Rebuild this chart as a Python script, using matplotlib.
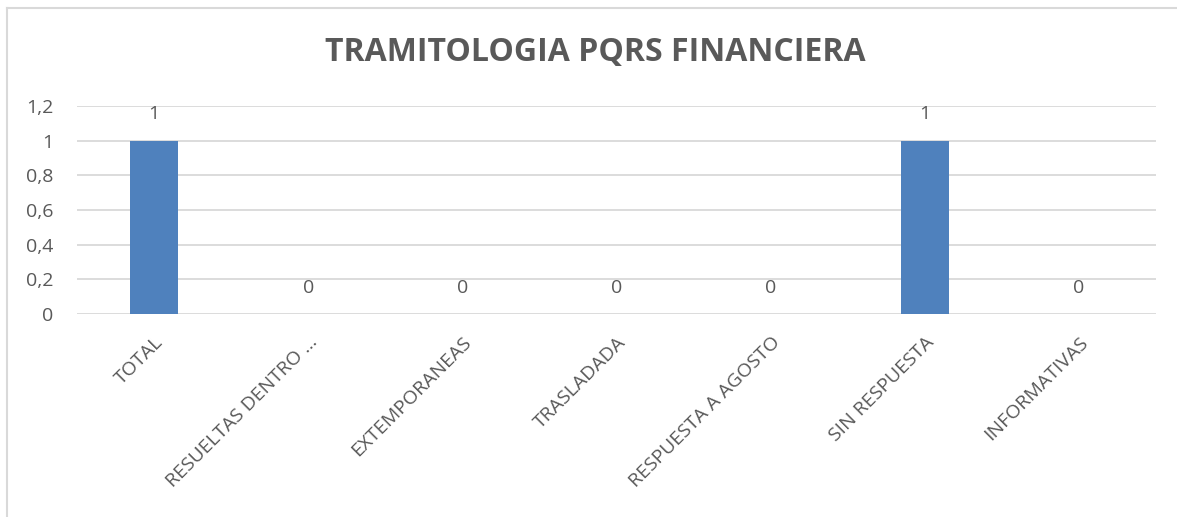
import matplotlib.pyplot as plt
from matplotlib.lines import Line2D
from matplotlib.ticker import FuncFormatter

# Data
categories = ['TOTAL', 'RESUELTAS DENTRO …', 'EXTEMPORANEAS', 'TRASLADADA',
              'RESPUESTA A AGOSTO', 'SIN RESPUESTA', 'INFORMATIVAS']
values = [1, 0, 0, 0, 0, 1, 0]
yticks = [0, 0.2, 0.4, 0.6, 0.8, 1.0, 1.2]

TEXT = '#595959'
BAR = '#4f81bd'
GRID = '#d9d9d9'

plt.rcParams['font.family'] = ['Open Sans', 'DejaVu Sans']

fig = plt.figure(figsize=(11.77, 5.17), dpi=100)
ax = fig.add_axes([77 / 1177, 1 - 314 / 517, (1156 - 77) / 1177, (314 - 106) / 517])

x = range(len(categories))
bars = ax.bar(x, values, width=0.31, color=BAR, zorder=3)

for xi, v in zip(x, values):
    ax.annotate(str(v), (xi, v), xytext=(0, 19), textcoords='offset points',
                ha='center', va='center', fontsize=14, color=TEXT)

ax.set_xlim(-0.5, len(categories) - 0.5)
ax.set_ylim(0, 1.2)
ax.set_yticks(yticks)
ax.yaxis.set_major_formatter(FuncFormatter(lambda v, p: ('%g' % round(v, 1)).replace('.', ',')))
ax.grid(axis='y', color=GRID, linewidth=1.3, zorder=0)
ax.set_xticks(list(x))
ax.set_xticklabels(categories, rotation=45, ha='right', rotation_mode='anchor')
ax.tick_params(axis='both', length=0, labelsize=14, labelcolor=TEXT)
ax.tick_params(axis='x', pad=14)
ax.tick_params(axis='y', pad=17)
for s in ax.spines.values():
    s.set_visible(False)

fig.text(0.506, 1 - 53 / 517, 'TRAMITOLOGIA PQRS FINANCIERA', ha='center', va='center',
         fontsize=23, fontweight='bold', color=TEXT)

# chart frame (top and left edges visible)
fig.add_artist(Line2D([7 / 1177, 1.0], [1 - 8 / 517] * 2, color=GRID, linewidth=1.5))
fig.add_artist(Line2D([7 / 1177] * 2, [0, 1 - 8 / 517], color=GRID, linewidth=1.5))

fig.savefig('out.png', dpi=100)
